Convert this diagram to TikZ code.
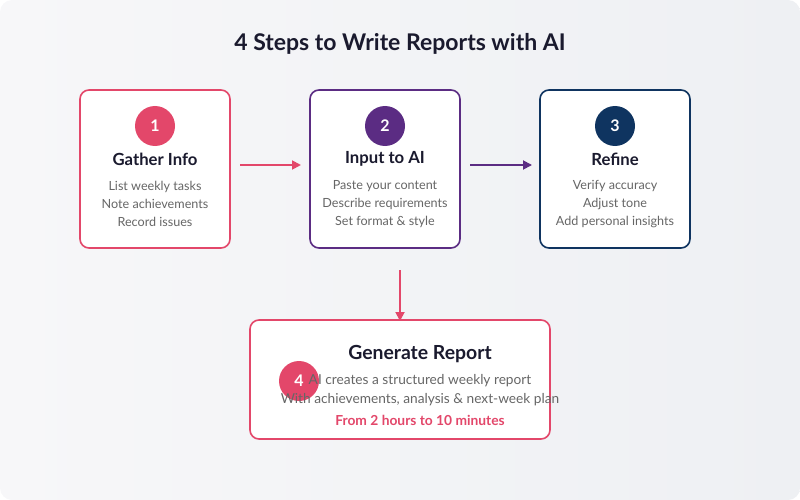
\documentclass[tikz,border=0pt]{standalone}
\usepackage{fontspec}
\setmainfont{Lato}
\usetikzlibrary{arrows.meta}
\definecolor{cred}{HTML}{E3476A}
\definecolor{cpurple}{HTML}{5B2C83}
\definecolor{cnavy}{HTML}{0F3460}
\definecolor{cdark}{HTML}{1A1A2E}
\definecolor{cgray}{HTML}{666666}
\definecolor{bgA}{HTML}{F7F7F9}
\definecolor{bgB}{HTML}{EEF0F3}
\tikzset{
  stepbox/.style={draw=#1, line width=1.6pt, rounded corners=9pt, fill=white},
  badge/.style={circle, fill=#1, minimum size=40pt, inner sep=0pt, text=white, font=\bfseries\fontsize{16}{18}\selectfont},
  heading/.style={text=cdark, font=\bfseries\fontsize{16.7}{18}\selectfont, inner sep=0pt},
  desc/.style={text=cgray, font=\fontsize{12.6}{18}\selectfont, align=center, inner sep=0pt},
  desclg/.style={text=cgray, font=\fontsize{13.7}{18}\selectfont, align=center, inner sep=0pt},
  flow/.style={draw=#1, line width=1.8pt, -{Triangle[length=9pt,width=9pt]}}
}
\begin{document}
\begin{tikzpicture}[x=1pt,y=-1pt]
\useasboundingbox (0,0) rectangle (800,500);
\shade[left color=bgA, right color=bgB, rounded corners=12pt] (0,0) rectangle (800,500);
\node[text=cdark, font=\bfseries\fontsize{23}{26}\selectfont] (title) at (400,44) {4 Steps to Write Reports with AI};

\path[stepbox=cred] (80,90) rectangle (230,248);
\path[stepbox=cpurple] (310,90) rectangle (460,248);
\path[stepbox=cnavy] (540,90) rectangle (690,248);

\node[badge=cred] (c1) at (155,126) {1};
\node[badge=cpurple] (c2) at (385,126) {2};
\node[badge=cnavy] (c3) at (615,126) {3};

\node[heading] (h1) at (155,159) {Gather Info};
\node[heading] (h2) at (385,159) {Input to AI};
\node[heading] (h3) at (615,159) {Refine};

\node[desc] (d1) at (155,204) {List weekly tasks\\Note achievements\\Record issues};
\node[desc] (d2) at (385,204) {Paste your content\\Describe requirements\\Set format \& style};
\node[desc] (d3) at (615,204) {Verify accuracy\\Adjust tone\\Add personal insights};

\coordinate (a1s) at (240,165);
\coordinate (a1e) at (301,165);
\coordinate (a2s) at (470,165);
\coordinate (a2e) at (532,165);
\coordinate (a3s) at (400,270);
\coordinate (a3e) at (400,321);
\draw[flow=cred] (a1s) -- (a1e);
\draw[flow=cpurple] (a2s) -- (a2e);
\draw[flow=cred] (a3s) -- (a3e);

\path[stepbox=cred] (250,320) rectangle (550,439);
\node[heading, font=\bfseries\fontsize{19.4}{22}\selectfont] (h4) at (420,354) {Generate Report};
\node[badge=cred] (c4) at (299,381) {4};
\node[desclg] (d4a) at (420,381) {AI creates a structured weekly report};
\node[desclg] (d4b) at (420,400) {With achievements, analysis \& next-week plan};
\node[desclg, text=cred, font=\bfseries\fontsize{13.8}{16}\selectfont] (d4c) at (420,420) {From 2 hours to 10 minutes};
\end{tikzpicture}
\end{document}
